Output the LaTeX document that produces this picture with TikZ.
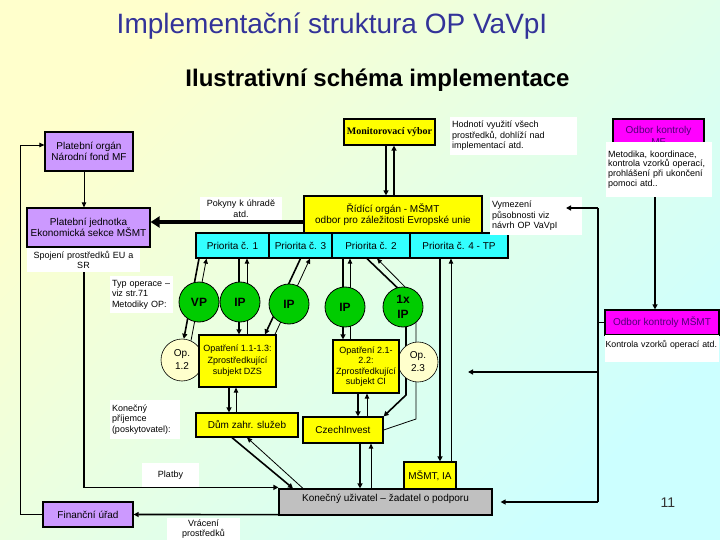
\documentclass[tikz,border=0pt]{standalone}
\usepackage{fontspec}
\setmainfont{Liberation Sans}
\newfontfamily\tnrfont{Liberation Serif}
\usetikzlibrary{arrows.meta}
\pgfdeclarelayer{bgl}
\pgfdeclarelayer{lnl}
\pgfsetlayers{bgl,lnl,main}
\definecolor{cPurple}{RGB}{204,153,255}
\definecolor{cYel}{RGB}{255,255,0}
\definecolor{cCyan}{RGB}{51,255,255}
\definecolor{cGreen}{RGB}{0,204,0}
\definecolor{cPale}{RGB}{255,255,204}
\definecolor{cMag}{RGB}{255,0,255}
\definecolor{cMagTxt}{RGB}{80,0,120}
\definecolor{cGray}{RGB}{192,192,192}
\definecolor{cTitle}{RGB}{51,51,153}
\definecolor{bgY}{RGB}{255,255,204}
\definecolor{bgC}{RGB}{204,255,255}
\tikzset{
  sbox/.style={draw=black, line width=1.2pt, inner sep=0pt, align=center, font=\fontsize{10}{11}\selectfont},
  purpbox/.style={sbox, fill=cPurple},
  yelbox/.style={sbox, fill=cYel},
  cyanbox/.style={sbox, fill=cCyan},
  magbox/.style={sbox, fill=cMag, text=cMagTxt},
  greencirc/.style={circle, draw=black, line width=0.8pt, fill=cGreen, minimum size=40pt, inner sep=0pt, align=center, font=\fontsize{12}{15}\selectfont\bfseries},
  palecirc/.style={circle, draw=black, line width=0.6pt, fill=cPale, inner sep=0pt, align=center, font=\fontsize{10}{13}\selectfont},
  wlab/.style={fill=white, inner xsep=2pt, inner ysep=0pt, align=left, font=\fontsize{9}{10.5}\selectfont},
  wlabc/.style={wlab, align=center},
  ta/.style={line width=1.6pt, -{Triangle[length=5pt,width=5pt]}},
  na/.style={line width=0.8pt, -{Triangle[length=5pt,width=4.5pt]}},
  tl/.style={line width=1.6pt},
  nl/.style={line width=0.8pt},
  bigarrow/.style={line width=3.5pt, -{Triangle[length=9pt,width=11pt]}}
}
\begin{document}
\begin{tikzpicture}[x=1pt,y=-1pt]
\begin{pgfonlayer}{bgl}
\shade[top color=bgY, bottom color=bgC, shading angle=45] (0,0) rectangle (720,540);
\end{pgfonlayer}
\useasboundingbox (0,0) rectangle (720,540);

% titles
\node[font=\fontsize{28}{32}\selectfont, text=cTitle, anchor=base] (title) at (332,34) {Implementační struktura OP VaVpI};
\node[font=\fontsize{24}{28}\selectfont\bfseries, anchor=base] (sub) at (377.5,87) {Ilustrativní schéma implementace};

% left column
\node[purpbox, minimum width=88pt, minimum height=39pt] (po) at (89,151.5) {Platební orgán\\Národní fond MF};
\node[purpbox, minimum width=123pt, minimum height=39pt] (pj) at (88.5,227.5) {Platební jednotka\\Ekonomická sekce MŠMT};
\node[purpbox, minimum width=90pt, minimum height=25pt] (fu) at (88,514.5) {Finanční úřad};

% top
\node[yelbox, minimum width=91pt, minimum height=26pt, font=\tnrfont\fontsize{10}{11}\selectfont\bfseries] (mv) at (389.5,132) {Monitorovací výbor};
\node[yelbox, minimum width=178pt, minimum height=37pt] (ro) at (393,214.5) {Řídící orgán - MŠMT\\odbor pro záležitosti Evropské unie};

% priorities
\node[cyanbox, minimum width=73pt, minimum height=25pt] (p1) at (232.5,245.5) {Priorita č. 1};
\node[cyanbox, minimum width=63pt, minimum height=25pt] (p3) at (300.5,245.5) {Priorita č. 3};
\node[cyanbox, minimum width=78pt, minimum height=25pt] (p2) at (371,245.5) {Priorita č. 2};
\node[cyanbox, minimum width=98pt, minimum height=25pt] (p4) at (459,245.5) {Priorita č. 4 - TP};

% circles
\node[greencirc] (vp) at (199,302) {VP};
\node[greencirc] (ip1) at (240,302) {IP};
\node[greencirc] (ip2) at (289,304) {IP};
\node[greencirc] (ip3) at (345,307) {IP};
\node[greencirc] (ipx) at (403,307) {1x\\IP};
\node[palecirc, minimum size=42pt] (op12) at (182,360) {Op.\\1.2};
\node[palecirc, minimum size=40pt] (op23) at (418,362) {Op.\\2.3};

% intermediate bodies
\node[yelbox, minimum width=77pt, minimum height=52pt, font=\fontsize{9}{11.5}\selectfont] (o11) at (237.5,361) {Opatření 1.1-1.3:\\Zprostředkující\\subjekt DZS};
\node[yelbox, minimum width=66pt, minimum height=53pt, font=\fontsize{9}{10.5}\selectfont] (o21) at (366,366.5) {Opatření 2.1-\\2.2:\\Zprostředkující\\subjekt CI};
\node[yelbox, minimum width=102pt, minimum height=24pt] (dzs) at (247,425) {Dům zahr. služeb};
\node[yelbox, minimum width=80pt, minimum height=26pt] (ci) at (343,430) {CzechInvest};
\node[yelbox, minimum width=52pt, minimum height=27pt] (ia) at (430,475.5) {MŠMT, IA};
\node[sbox, fill=cGray, minimum width=213pt, minimum height=26pt, text height=7pt, text depth=8pt] (ku) at (385.5,502) {Konečný uživatel – žadatel o podporu};

% right column
\node[magbox, minimum width=91pt, minimum height=26pt] (mk) at (658.5,132) {};
\node[text=cMagTxt, align=center, inner sep=0pt, font=\fontsize{10}{12}\selectfont] (mkt) at (658.5,136) {Odbor kontroly\\MF};
\node[wlab, text width=102pt, minimum height=55pt, font=\fontsize{9}{9.7}\selectfont] (mkl) at (659,169.5) {Metodika, koordinace,\\kontrola vzorků operací,\\prohlášení při ukončení\\pomoci atd..};
\node[magbox, minimum width=114pt, minimum height=25pt] (mm) at (662,322.5) {Odbor kontroly MŠMT};
\node[wlab, inner xsep=0.5pt, text width=113pt, minimum height=27pt, text height=7pt, text depth=10pt, font=\fontsize{8.8}{10}\selectfont] (mml) at (662,348.5) {Kontrola vzorků operací atd.};

% white labels
\node[wlab, text width=123pt, minimum height=38pt] (hod) at (513.5,136) {Hodnotí využití všech\\prostředků, dohlíží nad\\implementací atd.};
\node[wlab, text width=88pt, minimum height=38pt] (vym) at (536,216) {Vymezení\\působnosti viz\\návrh OP VaVpI};
\node[wlabc, text width=78pt, minimum height=23pt] (pok) at (241,208.5) {Pokyny k úhradě\\atd.};
\node[wlabc, text width=109pt, minimum height=24pt] (spo) at (83.5,260) {Spojení prostředků EU a\\SR};
\node[wlab, text width=59pt, minimum height=37pt] (typ) at (141.5,294.5) {Typ operace –\\viz str.71\\Metodiky OP:};
\node[wlab, text width=66pt, minimum height=39pt] (kon) at (145,419.5) {Konečný\\příjemce\\(poskytovatel):};
\node[wlabc, text width=53pt, minimum height=24pt] (pla) at (170.5,475) {Platby};
\node[wlabc, text width=69pt, minimum height=22pt] (vra) at (203.5,529) {Vrácení\\prostředků};

\node[font=\fontsize{14}{16}\selectfont, text=black!80] (pg) at (668,503) {11};

\coordinate (bt) at (598,208);
\coordinate (bb) at (598,502);
\coordinate (ft) at (468,372);
\coordinate (vt) at (566,208);

\begin{pgfonlayer}{lnl}
\draw[na] (fu.west) -- (20,514.5) -- (20,145) -- ([yshift=6.5pt]po.west);
\draw[na] ([xshift=-5pt]po.south) -- ([xshift=-4.5pt]pj.north);
\draw[ta] ([xshift=-4.5pt]pj.south) |- ([yshift=1pt]ku.north west);
\draw[ta] ([yshift=1pt]ku.south west) -- (fu.east);
\draw[bigarrow] ([yshift=-7.5pt]ro.west) -- ([yshift=5.5pt]pj.east);
\draw[ta] ([xshift=-3.5pt]mv.south) -- ([xshift=-7pt]ro.north);
\draw[ta] ([xshift=1pt]ro.north) -- ([xshift=4.5pt]mv.south);
% priority columns
\draw[ta] ([xshift=-33.5pt]p1.south) -- (op12.85);
\draw[na] (op12.65) -- ([xshift=-26pt]p1.south);
\draw[ta] ([xshift=6.5pt]p1.south) -- ([xshift=1.5pt]o11.north);
\draw[na] ([xshift=9.5pt]o11.north) -- ([xshift=14.5pt]p1.south);
\draw[ta] (p3.south) -- ([xshift=27.5pt]o11.north);
\draw[na] ([xshift=37.5pt]o11.north) -- ([xshift=9.5pt]p3.south);
\draw[ta] ([xshift=-28pt]p2.south) -- ([xshift=-23pt]o21.north);
\draw[na] ([xshift=-16pt]o21.north) -- ([xshift=-21pt]p2.south);
\draw[ta] ([xshift=-4pt]p2.south) -- (406,296) -- (406,395) -- (ci.north east);
\draw[na] (ci.east) -- (416,419) -- (416,298) -- ([xshift=6pt]p2.south);
\draw[ta] ([xshift=-8.5pt]o11.south) -- ([xshift=-18pt]dzs.north);
\draw[na] ([xshift=-11pt]dzs.north) -- ([xshift=-1.5pt]o11.south);
\draw[ta] ([xshift=-8pt]o21.south) -- ([xshift=15pt]ci.north);
\draw[na] ([xshift=24pt]ci.north) -- ([xshift=1pt]o21.south);
\draw[ta] ([xshift=-15pt]dzs.south) -- ([xshift=-92.5pt]ku.north);
\draw[na] ([xshift=-82.5pt]ku.north) -- (dzs.south);
\draw[ta] ([xshift=17pt]ci.south) -- ([xshift=-25.5pt]ku.north);
\draw[na] ([xshift=-14.5pt]ku.north) -- ([xshift=28pt]ci.south);
\draw[ta] ([xshift=-19pt]p4.south) -- ([xshift=10pt]ia.north);
\draw[na] ([xshift=21pt]ia.north) -- ([xshift=-8pt]p4.south);
% right side
\draw[tl] (bt) -- (bb);
\draw[ta] (bb) -- ([xshift=8pt]ku.east);
\draw[ta] (598,372) -- (ft);
\draw[nl] (598,322.5) -- (mm.west);
\draw[ta] ([xshift=-4pt]mkl.south) -- ([xshift=-7pt]mm.north);
\end{pgfonlayer}
\draw[ta] (bt) -- (vt);
\end{tikzpicture}
\end{document}
